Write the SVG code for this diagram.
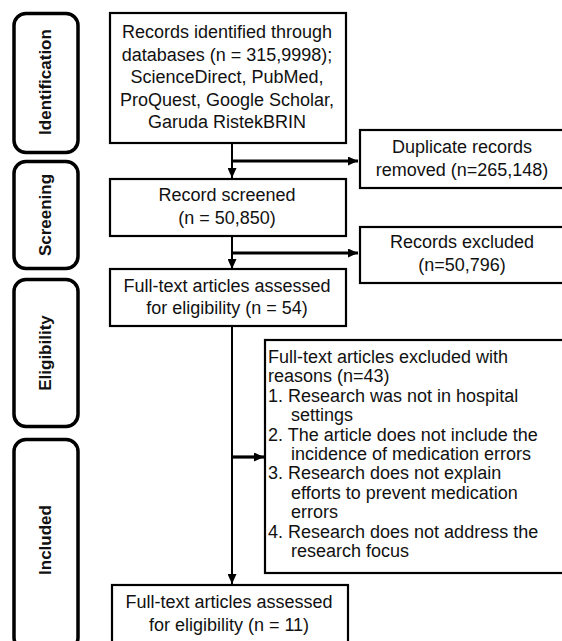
<svg xmlns="http://www.w3.org/2000/svg" width="562" height="641" viewBox="0 0 562 641">
<style>
.box{fill:#fff;stroke:#000;stroke-width:2.2}
.phase{fill:#fff;stroke:#000;stroke-width:3.5}
.t{font-family:"Liberation Sans",Arial,sans-serif;font-size:18px;fill:#111}
.c{text-anchor:middle}
.p{font-family:"Liberation Sans",Arial,sans-serif;font-size:17px;font-weight:bold;fill:#111;text-anchor:middle}
.ln{stroke:#000;stroke-width:2;fill:none}
.ln3{stroke:#000;stroke-width:3.2;fill:none}
</style>
<defs>
<marker id="ah" markerWidth="10" markerHeight="9" refX="10" refY="4.5" orient="auto" markerUnits="userSpaceOnUse">
<path d="M0,0 L10,4.5 L0,9 Z" fill="#000"/>
</marker>
</defs>
<rect width="562" height="641" fill="#fff"/>
<g id="phase-identification"><rect class="phase" x="14" y="13.5" width="64" height="139" rx="12"/><text class="p" transform="translate(51,82) rotate(-90)">Identification</text></g>
<g id="phase-screening"><rect class="phase" x="14" y="161.5" width="64" height="107" rx="12"/><text class="p" transform="translate(51,215) rotate(-90)">Screening</text></g>
<g id="phase-eligibility"><rect class="phase" x="14" y="279.5" width="64" height="147" rx="12"/><text class="p" transform="translate(51,353) rotate(-90)">Eligibility</text></g>
<g id="phase-included"><rect class="phase" x="14" y="439.5" width="64" height="210" rx="12"/><text class="p" transform="translate(51,540) rotate(-90)">Included</text></g>

<g id="connectors">
<line class="ln" x1="232" y1="144" x2="232" y2="178" marker-end="url(#ah)"/>
<line class="ln3" x1="232" y1="161" x2="358" y2="161" marker-end="url(#ah)"/>
<line class="ln" x1="232" y1="237" x2="232" y2="269" marker-end="url(#ah)"/>
<line class="ln3" x1="232" y1="253" x2="358" y2="253" marker-end="url(#ah)"/>
<line class="ln" x1="232" y1="327" x2="232" y2="584" marker-end="url(#ah)"/>
<line class="ln3" x1="232" y1="457" x2="264" y2="457" marker-end="url(#ah)"/>
</g>

<g id="records-identified"><rect class="box" x="110" y="13" width="236" height="130"/>
<text class="t c" x="227" y="38">Records identified through</text>
<text class="t c" x="227" y="60.5">databases (n = 315,9998);</text>
<text class="t c" x="227" y="83">ScienceDirect, PubMed,</text>
<text class="t c" x="227" y="105.5">ProQuest, Google Scholar,</text>
<text class="t c" x="227" y="128">Garuda RistekBRIN</text></g>

<g id="duplicates"><rect class="box" x="360" y="130" width="220" height="58"/>
<text class="t c" x="462" y="153">Duplicate records</text>
<text class="t c" x="462" y="176">removed (n=265,148)</text></g>

<g id="screened"><rect class="box" x="110" y="179" width="236" height="57"/>
<text class="t c" x="227" y="201">Record screened</text>
<text class="t c" x="227" y="224">(n = 50,850)</text></g>

<g id="excluded"><rect class="box" x="360" y="227" width="220" height="56"/>
<text class="t c" x="462" y="248">Records excluded</text>
<text class="t c" x="462" y="271">(n=50,796)</text></g>

<g id="fulltext"><rect class="box" x="110" y="269" width="236" height="57"/>
<text class="t c" x="227" y="292">Full-text articles assessed</text>
<text class="t c" x="227" y="314">for eligibility (n = 54)</text></g>

<g id="fulltext-excluded"><rect class="box" x="265" y="340" width="320" height="233"/>
<text class="t" x="268" y="363">Full-text articles excluded with</text>
<text class="t" x="268" y="382.4">reasons (n=43)</text>
<text class="t" x="268" y="401.8">1. Research was not in hospital</text>
<text class="t" x="291" y="421.2">settings</text>
<text class="t" x="268" y="440.6">2. The article does not include the</text>
<text class="t" x="291" y="460">incidence of medication errors</text>
<text class="t" x="268" y="479.4">3. Research does not explain</text>
<text class="t" x="291" y="498.8">efforts to prevent medication</text>
<text class="t" x="291" y="518.2">errors</text>
<text class="t" x="268" y="537.6">4. Research does not address the</text>
<text class="t" x="291" y="557">research focus</text></g>

<g id="included"><rect class="box" x="112" y="585" width="236" height="65"/>
<text class="t c" x="229" y="608">Full-text articles assessed</text>
<text class="t c" x="229" y="631">for eligibility (n = 11)</text></g>
</svg>
